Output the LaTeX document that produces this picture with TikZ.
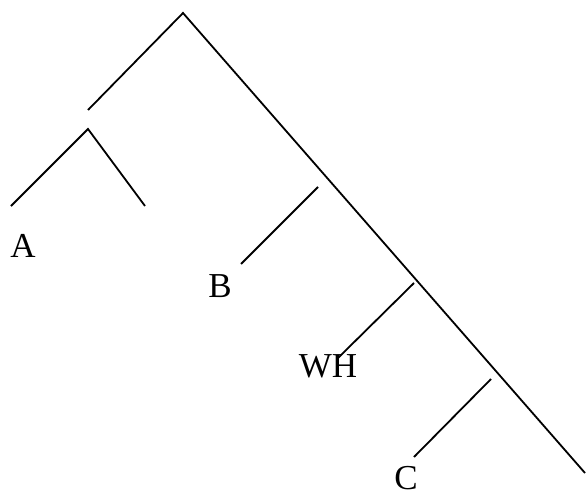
\documentclass[tikz,border=0pt]{standalone}
\usepackage{fontspec}
\setmainfont{Liberation Serif}
\usetikzlibrary{positioning}

\begin{document}
\begin{tikzpicture}[x=1pt, y=-1pt, line width=1.8pt,
    leaf/.style={anchor=base, inner sep=0pt, font=\fontsize{35}{40}\selectfont}]
    \useasboundingbox (0,0) rectangle (586,495);

    \coordinate (top)   at (183,13);
    \coordinate (spec)  at (88,110);
    \coordinate (sub)   at (88,129);
    \coordinate (subl)  at (11,206);
    \coordinate (subr)  at (145,206);
    \coordinate (bottom) at (585,473);

    \coordinate (bup)   at (318,187);
    \coordinate (blo)   at (241,264);
    \coordinate (whup)  at (414,283);
    \coordinate (whlo)  at (338,358);
    \coordinate (cup)   at (491,379);
    \coordinate (clo)   at (414,457);

    \draw (spec) -- (top) -- (bottom);
    \draw (subl) -- (sub) -- (subr);
    \draw (bup) -- (blo);
    \draw (whup) -- (whlo);
    \draw (cup) -- (clo);

    \node[leaf] (a)  at (23,257)  {A};
    \node[leaf] (b)  at (220,297) {B};
    \node[leaf] (wh) at (328,377) {WH};
    \node[leaf] (c)  at (406,489) {C};
\end{tikzpicture}
\end{document}
